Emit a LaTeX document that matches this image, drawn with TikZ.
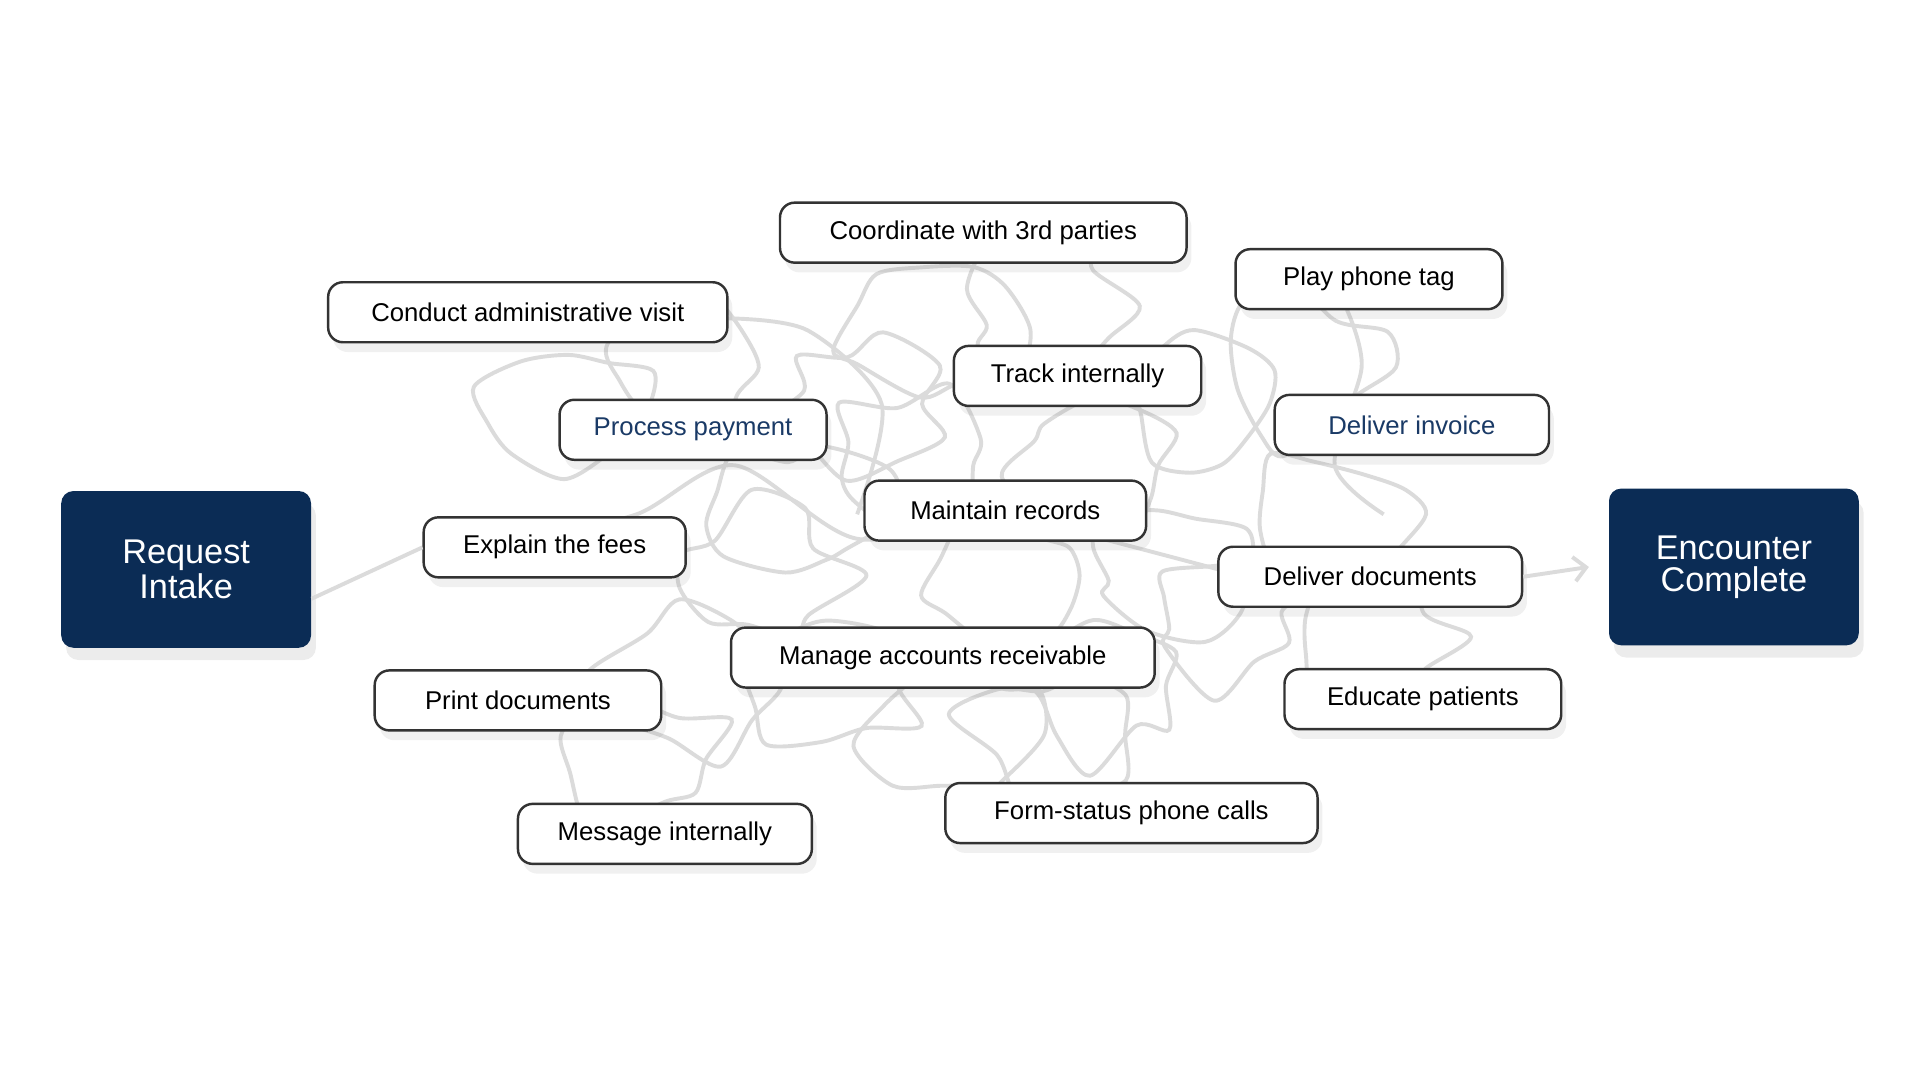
\documentclass[tikz,border=0pt]{standalone}
\usepackage{fontspec}
\setmainfont{Liberation Sans}
\usetikzlibrary{shadows,arrows.meta}
\definecolor{navy}{HTML}{0B2C55}
\definecolor{linkblue}{HTML}{1A3A66}
\tikzset{
  task/.style={draw=black!80, line width=1pt, rounded corners=6pt, fill=white,
    minimum height=24.5pt, inner xsep=6pt, font=\fontsize{10.5}{12}\selectfont,
    drop shadow={opacity=0.12, shadow xshift=2pt, shadow yshift=-4pt}},
  pay/.style={task, text=linkblue},
  ends/.style={fill=navy, text=white, rounded corners=5pt, minimum width=102pt,
    minimum height=64pt, align=center, font=\fontsize{14}{13}\selectfont,
    drop shadow={opacity=0.15, shadow xshift=2pt, shadow yshift=-5pt}},
  scribble/.style={draw=black!14, line width=1.6pt}
}
\begin{document}
\begin{tikzpicture}[x=0.5pt, y=-0.5pt]
\useasboundingbox (0,0) rectangle (1568,882);
% tangle behind the tasks
\pgfmathsetseed{11}
\foreach \cx/\cy in {470/330, 560/300, 650/420, 700/330, 760/270, 850/250,
  900/380, 980/330, 1060/300, 1080/420, 1000/500, 900/560, 780/600, 680/560,
  560/560, 520/620, 620/470, 820/470, 950/460, 1120/520, 740/380, 860/600}
  \draw[scribble] plot[smooth cycle, domain=0:330, samples=11]
    ({\cx+(45+45*rnd)*cos(\x)}, {\cy+(35+40*rnd)*sin(\x)});
\draw[scribble] plot[smooth] coordinates {(430,440) (520,420) (600,380) (700,440)
  (820,420) (900,440) (995,465)};
\draw[scribble] plot[smooth] coordinates {(594,260) (660,270) (720,330) (700,420)};
\draw[scribble] plot[smooth] coordinates {(1100,253) (1112,300) (1090,380) (1130,420)};
% tasks
\node[ends] (intake) at (152,465) {Request\\Intake};
\node[ends] (done) at (1416,463) {Encounter\\Complete};
\node[task, minimum width=166pt] (coord) at (803,190) {Coordinate with 3rd parties};
\node[task, minimum width=109pt] (tag) at (1118,228) {Play phone tag};
\node[task, minimum width=163pt] (visit) at (431,255) {Conduct administrative visit};
\node[task, minimum width=101pt] (track) at (880,307) {Track internally};
\node[pay, minimum width=109pt] (payment) at (566,351) {Process payment};
\node[pay, minimum width=112pt] (invoice) at (1153,347) {Deliver invoice};
\node[task, minimum width=115pt] (records) at (821,417) {Maintain records};
\node[task, minimum width=107pt] (fees) at (453,447) {Explain the fees};
\node[task, minimum width=124pt] (docs) at (1119,471) {Deliver documents};
\node[task, minimum width=173pt] (receivable) at (770,537) {Manage accounts receivable};
\node[task, minimum width=117pt] (print) at (423,572) {Print documents};
\node[task, minimum width=113pt] (educate) at (1162,571) {Educate patients};
\node[task, minimum width=120pt] (message) at (543,681) {Message internally};
\node[task, minimum width=152pt] (calls) at (924,664) {Form-status phone calls};
% entry and exit
\draw[scribble] (intake.east) ++(0,24) coordinate (in) -- (fees.west);
\draw[scribble, -{Straight Barb[length=5pt]}] (docs.east) -- ([xshift=-8pt]done.west);
\end{tikzpicture}
\end{document}
